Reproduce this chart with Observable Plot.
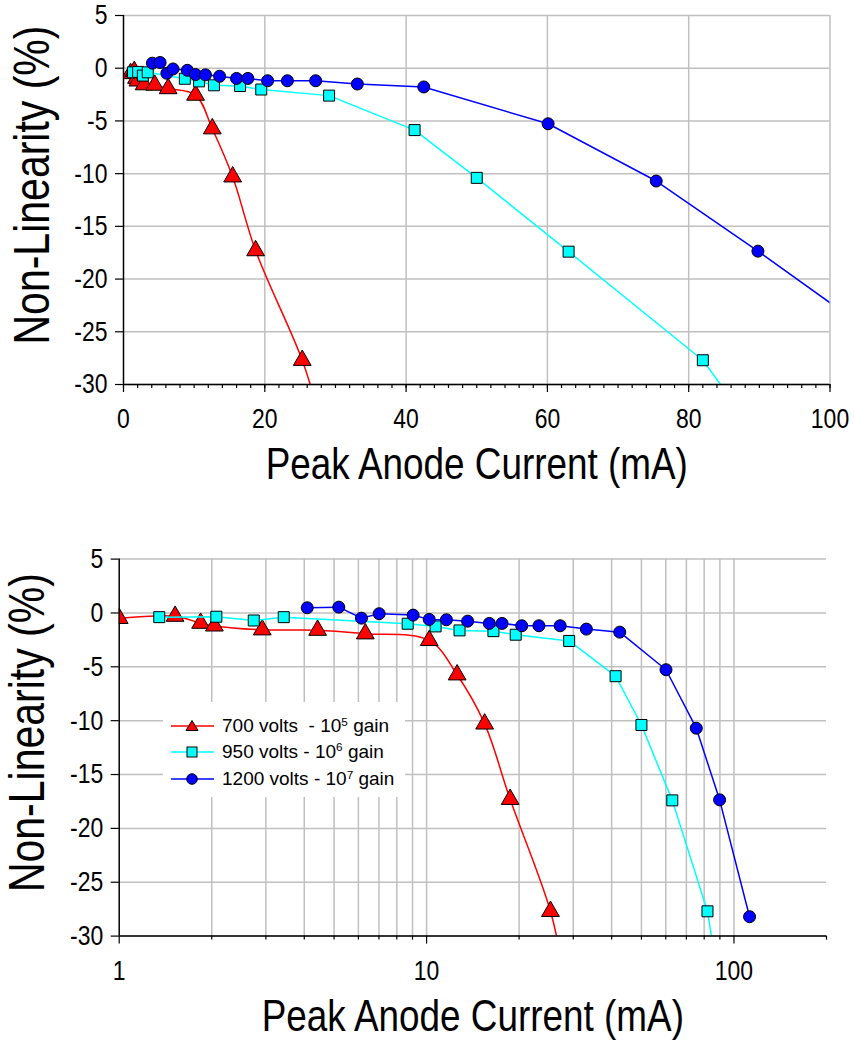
<!DOCTYPE html>
<html><head><meta charset="utf-8">
<script src="https://cdn.jsdelivr.net/npm/d3@7"></script>
<script src="https://cdn.jsdelivr.net/npm/@observablehq/plot@0.6"></script>
<style>
body{margin:0;background:#fff;}
#wrap{position:relative;width:854px;height:1047px;overflow:hidden;font-family:"Liberation Sans",Arial,sans-serif;background:#fff;}
#top,#bottom{position:absolute;left:0;}
#top{top:0}
#bottom{top:525px}
#legend{position:absolute;left:163px;top:702px;width:242px;height:95px;background:#fff;}
.row{position:absolute;left:8px;height:26px;display:flex;align-items:center;font-size:19px;white-space:pre;color:#000;}
.row svg{margin-right:8px;flex:none}
sup{font-size:0.62em;vertical-align:0;position:relative;top:-0.55em}
</style></head>
<body><div id="wrap"><div id="top"></div><div id="bottom"></div><div id="legend"></div></div>
<script>
// ---------- data ----------
const x700 = [1.0, 1.52, 1.84, 2.04, 2.92, 4.42, 6.32, 10.2, 12.57, 15.45, 18.7, 25.3, 27.7];
const y700 = [-0.5, -0.3, -0.95, -1.2, -1.56, -1.6, -1.93, -2.55, -5.74, -10.3, -17.3, -27.7, -33];
const x950 = [1.35, 2.07, 2.74, 3.43, 8.68, 10.7, 12.8, 16.5, 19.5, 29.1, 41.2, 50.0, 63.0, 82.0, 88];
const y950 = [-0.39, -0.35, -0.7, -0.39, -1.0, -1.25, -1.62, -1.69, -2.02, -2.6, -5.87, -10.4, -17.4, -27.7, -33.2];
const x1200 = [4.09, 5.18, 6.14, 7.01, 9.04, 10.2, 11.6, 13.6, 16.0, 17.6, 20.4, 23.2, 27.2, 33.1, 42.5, 60.1, 75.4, 89.8, 112.4];
const y1200 = [0.48, 0.54, -0.48, -0.07, -0.2, -0.6, -0.63, -0.76, -0.97, -0.97, -1.19, -1.19, -1.19, -1.5, -1.78, -5.27, -10.7, -17.35, -28.2];

const seriesNames = ["700 volts  - 10", "950 volts - 10", "1200 volts - 10"];
const seriesExp = ["5", "6", "7"];
const seriesColors = ["#ff0000", "#00ffff", "#0000ff"];
const seriesSymbols = ["triangle", "square", "circle"];
const seriesCurves = ["catmull-rom", "linear", "linear"];

const yDomain = [-30, 5];
const yTicks = [-30, -25, -20, -15, -10, -5, 0, 5];
const topXDomain = [0, 100];
const topXMajor = [0, 20, 40, 60, 80, 100];
const topXGrid = [20, 40, 60, 80, 100];
const topXMinor = d3.range(0, 101, 2);
const logXDomain = [1, 200];
const logXMajor = [1, 10, 100];
const logXGrid = [2, 3, 4, 5, 6, 7, 8, 9, 10, 20, 30, 40, 50, 60, 70, 80, 90, 100];
const logXMinor = [2, 3, 4, 5, 6, 7, 8, 9, 20, 30, 40, 50, 60, 70, 80, 90, 200];
const xTitle = "Peak Anode Current (mA)";
const yTitle = "Non-Linearity (%)";

// ---------- build ----------
const FONT = "'Liberation Sans', Arial, sans-serif";
const CONDENSE = 0.82;
const series = [
  {data: x700.map((x, i) => ({x, y: y700[i]}))},
  {data: x950.map((x, i) => ({x, y: y950[i]}))},
  {data: x1200.map((x, i) => ({x, y: y1200[i]}))}
].map((s, i) => ({...s, color: seriesColors[i], symbol: seriesSymbols[i], curve: seriesCurves[i]}));
const symR = {triangle: 6.6, square: 6.2, circle: 6};

function seriesMarks() {
  const out = [];
  for (const s of series) {
    out.push(Plot.line(s.data, {x: "x", y: "y", stroke: s.color, strokeWidth: 1.5, curve: s.curve, clip: true}));
    out.push(Plot.dot(s.data, {x: "x", y: "y", symbol: s.symbol, r: symR[s.symbol], fill: s.color, stroke: "#000", strokeWidth: 1, clip: true}));
  }
  return out;
}
const gridStyle = {stroke: "#c0c0c0", strokeOpacity: 1, strokeWidth: 1.5};
const fmt = d => String(d);

function panel({height, mt, mb, ml, mr, x, xGrid, xMajor, xMinor, titleDy, xPad}) {
  const svg = Plot.plot({
    width: 854, height, marginTop: mt, marginBottom: mb, marginLeft: ml, marginRight: mr,
    style: {fontFamily: FONT, background: "#fff", color: "#000", overflow: "visible"},
    x, y: {domain: yDomain},
    marks: [
      Plot.gridY({ticks: yTicks, ...gridStyle}),
      Plot.gridX({ticks: xGrid, ...gridStyle}),
      ...seriesMarks(),
      Plot.ruleY([yDomain[0]], {stroke: "#000", strokeWidth: 1.5}),
      Plot.ruleX([x.domain[0]], {stroke: "#000", strokeWidth: 1.5}),
      Plot.axisX({ticks: xMinor, tickSize: 4, tickFormat: () => "", label: null, strokeWidth: 1.2}),
      Plot.axisX({ticks: xMajor, tickSize: 8, tickPadding: xPad, tickFormat: fmt, fontSize: 28, label: null, strokeWidth: 1.2}),
      Plot.axisY({ticks: yTicks, tickSize: 8, tickPadding: 8, tickFormat: fmt, fontSize: 28, label: null, strokeWidth: 1.2}),
      Plot.text([xTitle], {frameAnchor: "bottom", dy: titleDy, fontSize: 45, fill: "#000"}),
      Plot.text([yTitle], {frameAnchor: "left", textAnchor: "middle", rotate: -90, dx: -91, dy: -15, fontSize: 50, fill: "#000"})
    ]
  });
  // narrow (condensed) lettering as in the reference
  svg.querySelectorAll("text").forEach(t => {
    const tr = t.getAttribute("transform") || "";
    t.setAttribute("transform", tr + ` scale(${CONDENSE},1)`);
  });
  return svg;
}

document.getElementById("top").append(panel({
  height: 525, mt: 15, mb: 141, ml: 123, mr: 24.5,
  x: {type: "linear", domain: topXDomain},
  xGrid: topXGrid, xMajor: topXMajor, xMinor: topXMinor, titleDy: 94, xPad: 16
}));
document.getElementById("bottom").append(panel({
  height: 522, mt: 33.6, mb: 111.4, ml: 118.7, mr: 28,
  x: {type: "log", domain: logXDomain},
  xGrid: logXGrid, xMajor: logXMajor, xMinor: logXMinor, titleDy: 95, xPad: 16
}));

// ---------- legend ----------
const legend = document.getElementById("legend");
const rowTops = [11, 36.7, 64];
series.forEach((s, i) => {
  const row = document.createElement("div");
  row.className = "row";
  row.style.top = rowTops[i] + "px";
  let marker;
  if (s.symbol === "triangle") marker = `<path d="M21,7.5 L27,17.5 L15,17.5 Z" fill="${s.color}" stroke="#000" stroke-width="1"/>`;
  else if (s.symbol === "square") marker = `<rect x="16" y="8" width="10" height="10" fill="${s.color}" stroke="#000" stroke-width="1"/>`;
  else marker = `<circle cx="21" cy="13" r="5.3" fill="${s.color}" stroke="#000" stroke-width="1"/>`;
  row.innerHTML = `<svg width="43" height="26"><line x1="0" x2="43" y1="13" y2="13" stroke="${s.color}" stroke-width="1.5"/>${marker}</svg><span>${seriesNames[i]}<sup>${seriesExp[i]}</sup> gain</span>`;
  legend.append(row);
});
</script>
</body></html>
